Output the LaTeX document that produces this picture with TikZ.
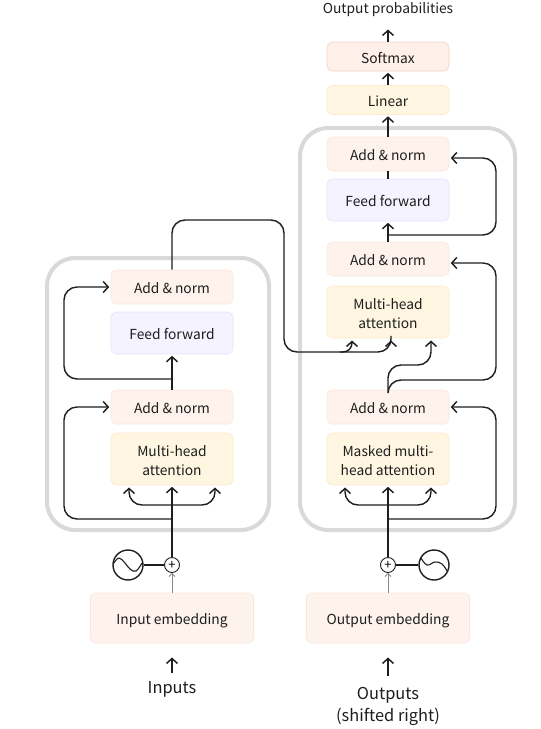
\documentclass[tikz,border=0pt]{standalone}
\usepackage{fontspec}
\setmainfont{Noto Sans CJK SC}
\usetikzlibrary{arrows.meta,calc}
\definecolor{peach}{HTML}{FEF3EC}
\definecolor{peachb}{HTML}{FBE6DA}
\definecolor{softf}{HTML}{FFF0EA}
\definecolor{softb}{HTML}{F8D3C2}
\definecolor{cream}{HTML}{FFF6E1}
\definecolor{creamb}{HTML}{FBEBCB}
\definecolor{lav}{HTML}{F4F3FF}
\definecolor{lavb}{HTML}{E6E4FA}
\definecolor{ink}{HTML}{1E1E1E}
\newcommand\lone{\rule[-4pt]{0pt}{21pt}}
\newcommand\ltop{\rule{0pt}{17pt}}
\newcommand\lbot{\rule[-4pt]{0pt}{0pt}}
\tikzset{
  boxbase/.style={rounded corners=6pt,minimum width=122pt,inner sep=0pt,align=center,font=\fontsize{13.8}{19}\selectfont,text=ink,line width=.6pt},
  addbox/.style={boxbase,draw=peachb,fill=peach,minimum height=34pt},
  ffbox/.style={boxbase,draw=lavb,fill=lav,minimum height=42pt},
  attbox/.style={boxbase,draw=creamb,fill=cream,minimum height=52pt},
  embox/.style={boxbase,draw=peachb,fill=peach,minimum width=163pt,minimum height=50pt,rounded corners=5pt},
  outer/.style={draw=black!15,line width=4pt,rounded corners=28pt},
  conn/.style={draw=ink,line width=1.4pt,rounded corners=13pt},
  arr/.style={conn,shorten >=1.5pt,-{Straight Barb[length=5pt,width=11pt,line width=1.45pt]}},
  thinarr/.style={draw=black!45,line width=.8pt,-{Straight Barb[length=3pt,width=6pt]}},
  adder/.style={circle,draw=ink,fill=white,line width=.9pt,minimum size=15pt,inner sep=0pt,font=\fontsize{13}{13}\selectfont},
  sine/.style={circle,draw=ink,line width=1.4pt,minimum size=30pt,inner sep=0pt},
  lab/.style={font=\fontsize{16.4}{22}\selectfont,text=ink,align=center,inner sep=0pt},
}
\begin{document}
\begin{tikzpicture}[x=1pt,y=-1pt]
\useasboundingbox (0,0) rectangle (541,729);
\fill[white] (0,0) rectangle (541,729);
% outer frames
\draw[outer] (47,258) rectangle (269,530);
\draw[outer] (300,128) rectangle (515,530);
% nodes left
\node[addbox] (lan2) at (172,287) {\lone Add \& norm};
\node[ffbox] (lff) at (172,333) {\lone Feed forward};
\node[addbox] (lan1) at (172,407) {\lone Add \& norm};
\node[attbox] (lma) at (172,459) {\ltop Multi-head\\\lbot attention};
\node[embox] (lem) at (172,618) {\lone Input embedding};
\node[adder] (lad) at (172,565) {+};
\node[sine] (lsin) at (128,565) {};
% nodes right
\node[boxbase,draw=softb,fill=softf,minimum height=29pt] (soft) at (388,56.5) {\lone Softmax};
\node[boxbase,draw=creamb,fill=cream,minimum height=29pt] (lin) at (388,100) {\lone Linear};
\node[addbox] (ran3) at (388,154) {\lone Add \& norm};
\node[ffbox] (rff) at (388,200) {\lone Feed forward};
\node[addbox] (ran2) at (388,259) {\lone Add \& norm};
\node[attbox] (rma) at (388,312) {\ltop Multi-head\\\lbot attention};
\node[addbox] (ran1) at (388,407) {\lone Add \& norm};
\node[attbox] (rmm) at (388,459) {\ltop Masked multi-\\\lbot head attention};
\node[embox] (rem) at (388,618) {\lone Output embedding};
\node[adder] (rad) at (388,565) {+};
\node[sine] (rsin) at (434,565) {};
% labels
\node[lab,font=\fontsize{13.8}{16}\selectfont] (outp) at (388,10) {Output probabilities};
\node[lab] (inp) at (172,689) {Inputs};
\node[lab] (outs) at (388,706) {Outputs\\(shifted right)};
% sine curves
\draw[ink,line width=1.1pt,shift={(lsin.center)}] plot[smooth,tension=.7] coordinates {(-14,-2) (-9,-7) (-3,-2) (2,4) (8,6) (14,-2)};
\draw[ink,line width=1.1pt,shift={(rsin.center)}] plot[smooth,tension=.7] coordinates {(-13,-7) (-7,0) (1,-3) (8,-1) (13,6)};
% sine to adder
\draw[conn] (lsin) -- (lad);
\draw[conn] (rsin) -- (rad);
% embedding to adder
\draw[thinarr] (lem) -- (lad);
\draw[thinarr] (rem) -- (rad);
% bottom arrows
\coordinate (ia) at (172,673); \coordinate (ib) at (172,656);
\coordinate (oa) at (388,676); \coordinate (ob) at (388,656);
\draw[arr,line width=1.2pt] (ia) -- (ib);
\draw[arr,line width=1.2pt] (oa) -- (ob);
% left encoder
\coordinate (la) at (172,505);
\coordinate (lb) at (172,519);
\coordinate (lc) at (172,379);
\draw[arr] (lad) -- (lma);
\draw[arr] (la) -| (129,486);
\draw[arr] (la) -| (215,486);
\draw[arr] (lb) -| (64,407) -- (lan1);
\draw[arr] (lan1) -- (lff);
\draw[arr] (lc) -| (64,287) -- (lan2);
% right decoder
\coordinate (ra) at (388,505);
\coordinate (rb) at (388,519);
\coordinate (rc) at (388,235);
\coordinate (e2) at ($(ran2.east)+(0,4)$);
\coordinate (e3) at ($(ran3.east)+(0,4)$);
\draw[arr] (rad) -- (rmm);
\draw[arr] (ra) -| (345,486);
\draw[arr] (ra) -| (431,486);
\draw[arr] (rb) -| (496,407) -- (ran1);
\draw[arr] (ran1.north) |- (496,380) -- (496,263) -- (e2);
\draw[arr] (ran1.north) |- (431,365) -- (431,339);
\draw[arr] (ran2) -- (rff);
\draw[arr] (rc) -| (496,158) -- (e3);
\draw[conn] (rff) -- (ran3);
\draw[arr] (ran3) -- (lin);
\draw[arr] (lin) -- (soft);
\draw[arr] (soft) -- (388,28);
% cross connection
\coordinate (xa) at (340,352);
\draw[arr] (lan2) -- (172,220) -- (284,220) -- (284,352) -- (391,352) -- (391,339);
\draw[arr,rounded corners=9pt] (xa) -| (352,339);
\end{tikzpicture}
\end{document}
